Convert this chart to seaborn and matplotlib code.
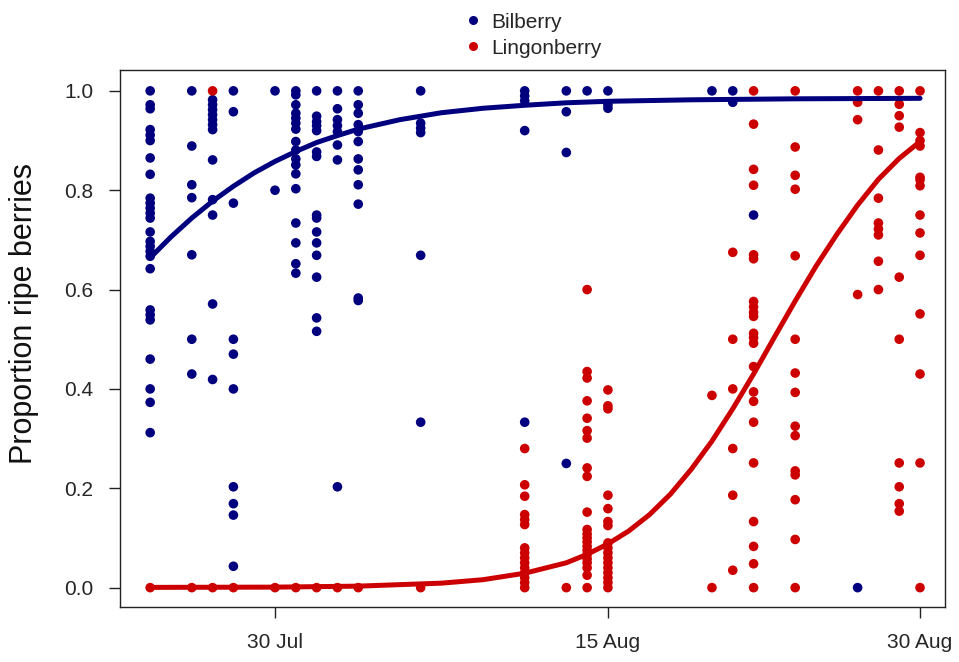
import numpy as np
import pandas as pd
import matplotlib
matplotlib.use("Agg")
import matplotlib.pyplot as plt
from matplotlib.lines import Line2D
import seaborn as sns

# ---------------- data (day of year; 211 = 30 Jul) ----------------
bil_days = [205, 207, 208, 209, 211, 212, 213, 214, 215, 218, 223, 225, 226, 227,
            232, 233, 234, 239]
bil_vals = [
    [1.0, 0.972, 0.964, 0.922, 0.911, 0.90, 0.865, 0.832, 0.784, 0.774, 0.764, 0.754,
     0.744, 0.716, 0.697, 0.687, 0.677, 0.667, 0.642, 0.559, 0.549, 0.539, 0.46, 0.40,
     0.373, 0.312],
    [1.0, 0.889, 0.811, 0.785, 0.67, 0.50, 0.43],
    [0.982, 0.972, 0.962, 0.952, 0.942, 0.932, 0.922, 0.861, 0.781, 0.75, 0.571, 0.419],
    [1.0, 0.958, 0.774, 0.5, 0.47, 0.40, 0.203, 0.169, 0.146, 0.043],
    [1.0, 0.80],
    [1.0, 0.992, 0.972, 0.955, 0.945, 0.935, 0.923, 0.898, 0.881, 0.863, 0.851, 0.833,
     0.803, 0.734, 0.694, 0.652, 0.633],
    [1.0, 0.949, 0.938, 0.93, 0.92, 0.877, 0.868, 0.75, 0.744, 0.716, 0.694, 0.669,
     0.625, 0.543, 0.516],
    [1.0, 0.964, 0.942, 0.93, 0.918, 0.891, 0.861, 0.203],
    [1.0, 0.972, 0.955, 0.932, 0.918, 0.898, 0.863, 0.841, 0.811, 0.772, 0.583, 0.578],
    [1.0, 0.935, 0.925, 0.916, 0.669, 0.333],
    [1.0, 0.99, 0.98, 0.92, 0.333],
    [1.0, 0.958, 0.876, 0.25],
    [1.0],
    [1.0, 0.972, 0.965],
    [1.0],
    [1.0, 0.977],
    [0.75],
    [0.0],
]

lin_days = [205, 207, 208, 209, 211, 212, 213, 214, 215, 218, 223, 225, 226, 227,
            232, 233, 234, 236, 239, 240, 241, 242]
lin_vals = [
    [0.0], [0.0], [1.0, 0.0], [0.0], [0.0], [0.0], [0.0], [0.0], [0.0], [0.0],
    [0.28, 0.207, 0.184, 0.147, 0.137, 0.127, 0.08, 0.07, 0.06, 0.05, 0.04, 0.03,
     0.02, 0.01, 0.0],
    [0.0],
    [0.6, 0.435, 0.422, 0.376, 0.341, 0.316, 0.301, 0.241, 0.224, 0.152, 0.117, 0.108,
     0.1, 0.092, 0.083, 0.075, 0.067, 0.058, 0.05, 0.04, 0.025, 0.0],
    [0.398, 0.366, 0.36, 0.186, 0.159, 0.133, 0.125, 0.09, 0.08, 0.07, 0.06, 0.05,
     0.04, 0.03, 0.02, 0.01, 0.0],
    [0.387, 0.0],
    [0.675, 0.5, 0.40, 0.28, 0.186, 0.035],
    [1.0, 0.933, 0.842, 0.81, 0.67, 0.662, 0.576, 0.565, 0.554, 0.546, 0.512, 0.503,
     0.492, 0.445, 0.394, 0.375, 0.333, 0.251, 0.133, 0.083, 0.048, 0.0],
    [1.0, 0.887, 0.83, 0.802, 0.668, 0.5, 0.432, 0.393, 0.325, 0.306, 0.235, 0.227,
     0.177, 0.097, 0.0],
    [1.0, 0.977, 0.942, 0.59],
    [1.0, 0.881, 0.784, 0.734, 0.722, 0.71, 0.657, 0.60],
    [1.0, 0.973, 0.95, 0.927, 0.625, 0.5, 0.251, 0.203, 0.169, 0.154],
    [1.0, 0.916, 0.9, 0.889, 0.826, 0.821, 0.809, 0.75, 0.714, 0.669, 0.551, 0.43,
     0.251, 0.0],
]

# fitted curves
bil_curve_day = [205, 206, 207, 208, 209, 210, 211, 212, 213, 214, 215, 217, 219,
                 221, 223, 225, 227, 231, 236, 242]
bil_curve_p = [0.664, 0.706, 0.744, 0.778, 0.808, 0.835, 0.858, 0.878, 0.896, 0.910,
               0.923, 0.942, 0.956, 0.965, 0.971, 0.976, 0.979, 0.982, 0.984, 0.985]

lin_curve_day = [205, 211, 215, 219, 221, 223, 225, 226, 227, 228, 229, 230, 231,
                 232, 233, 234, 235, 236, 237, 238, 239, 240, 241, 242]
lin_curve_p = [0.0005, 0.001, 0.003, 0.009, 0.016, 0.029, 0.050, 0.067, 0.088, 0.114,
               0.147, 0.188, 0.238, 0.295, 0.360, 0.430, 0.504, 0.577, 0.647, 0.711,
               0.770, 0.822, 0.864, 0.898]

species = ["Bilberry", "Lingonberry"]
tick_days = [211, 227, 242]
tick_labels = ["30 Jul", "15 Aug", "30 Aug"]
y_ticks = [0.0, 0.2, 0.4, 0.6, 0.8, 1.0]

BLUE = "#00007F"
RED = "#CC0000"

# ---------------- table ----------------
rows = []
for d, vals in zip(bil_days, bil_vals):
    for v in vals:
        rows.append(("Bilberry", d, v))
for d, vals in zip(lin_days, lin_vals):
    for v in vals:
        rows.append(("Lingonberry", d, v))
df = pd.DataFrame(rows, columns=["species", "day", "prop"])

# ---------------- plot ----------------
sns.set_theme(style="white")
plt.rcParams["font.family"] = ["Liberation Sans", "DejaVu Sans"]

fig = plt.figure(figsize=(9.59, 6.62), dpi=100)
ax = fig.add_axes([120 / 959, 1 - 607 / 662, 825 / 959, 537 / 662])

sns.scatterplot(data=df, x="day", y="prop", hue="species",
                palette={"Bilberry": BLUE, "Lingonberry": RED},
                s=48, edgecolor="none", linewidth=0, legend=False, ax=ax, zorder=2)
sns.lineplot(x=bil_curve_day, y=bil_curve_p, color=BLUE, lw=3.6, estimator=None,
             ax=ax, zorder=3)
sns.lineplot(x=lin_curve_day, y=lin_curve_p, color=RED, lw=3.6, estimator=None,
             ax=ax, zorder=4)

ax.set_xlim(203.55, 243.2)
ax.set_ylim(-0.039, 1.042)
ax.set_xticks(tick_days)
ax.set_xticklabels(tick_labels)
ax.set_yticks(y_ticks)
ax.set_yticklabels([f"{t:.1f}" for t in y_ticks])
ax.set_xlabel("")
ax.set_ylabel("")
ax.tick_params(axis="both", direction="out", length=8, width=1, color="#222222",
               labelsize=15, pad=11, bottom=True, left=True)
for sp in ax.spines.values():
    sp.set_color("#222222")
    sp.set_linewidth(1)
ax.grid(False)

fig.text(24 / 959, 1 - 314 / 662, "Proportion ripe berries", rotation=90,
         ha="center", va="center", fontsize=22, color="#111111")

handles = [Line2D([], [], ls="none", marker="o", markersize=6.5, color=BLUE,
                  markeredgewidth=0),
           Line2D([], [], ls="none", marker="o", markersize=6.5, color=RED,
                  markeredgewidth=0)]
fig.legend(handles, species, loc="upper center", bbox_to_anchor=(533 / 959, 1.0),
           frameon=False, fontsize=15, handlelength=0.8, handletextpad=0.5,
           labelspacing=0.35, borderaxespad=0.2)

fig.savefig("out.png", dpi=100)
